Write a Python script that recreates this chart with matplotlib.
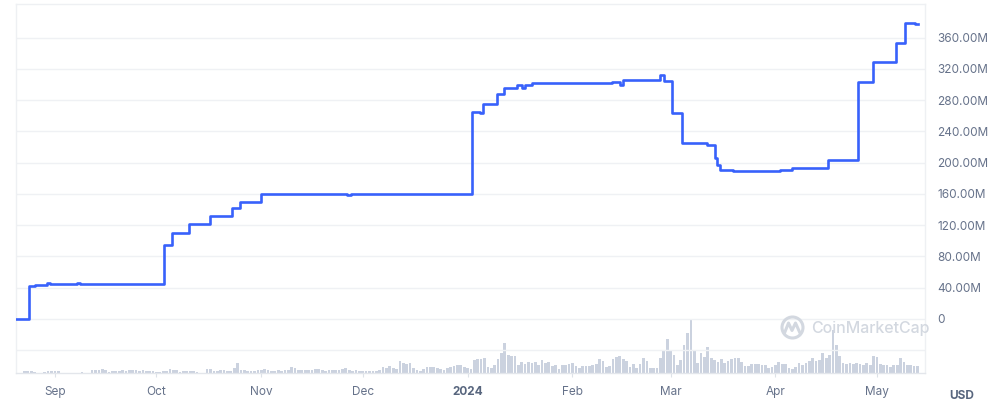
import matplotlib
matplotlib.use("Agg")
import matplotlib.pyplot as plt
import matplotlib.dates as mdates
from matplotlib.patches import Ellipse
from matplotlib.lines import Line2D
import pandas as pd

# ---------------- data ----------------
price_times = [
    "2023-08-20 12:00", "2023-08-24 07:00", "2023-08-26 00:00", "2023-08-29 14:00",
    "2023-08-30 12:00", "2023-09-07 12:00", "2023-09-08 12:00", "2023-10-03 05:00",
    "2023-10-05 17:00", "2023-10-10 14:00", "2023-10-16 19:00", "2023-10-23 10:00",
    "2023-10-25 17:00", "2023-10-31 19:00", "2023-11-26 05:00", "2023-11-27 12:00",
    "2024-01-02 10:00", "2024-01-04 19:00", "2024-01-05 14:00", "2024-01-09 17:00",
    "2024-01-11 17:00", "2024-01-15 12:00", "2024-01-17 00:00", "2024-01-17 22:00",
    "2024-01-19 22:00", "2024-02-12 17:00", "2024-02-15 00:00", "2024-02-16 00:00",
    "2024-02-26 19:00", "2024-02-28 00:00", "2024-03-01 12:00", "2024-03-04 12:00",
    "2024-03-11 19:00", "2024-03-14 02:00", "2024-03-14 19:00", "2024-03-15 14:00",
    "2024-03-19 10:00", "2024-04-02 07:00", "2024-04-05 19:00", "2024-04-16 14:00",
    "2024-04-25 10:00", "2024-04-29 22:00", "2024-05-06 12:00", "2024-05-09 07:00",
    "2024-05-12 05:00", "2024-05-13 05:00",
]
price_values_m = [
    0.0, 41.5, 43.5, 46.0,
    44.8, 45.8, 45.0, 94.0,
    110.0, 121.0, 131.5, 141.5,
    149.5, 160.0, 158.8, 159.7,
    265.0, 264.0, 275.5, 288.5,
    295.0, 299.4, 295.0, 299.0,
    301.5, 303.6, 299.3, 305.8,
    312.5, 305.0, 264.0, 225.4,
    222.4, 205.4, 197.0, 190.4,
    188.7, 190.4, 192.6, 203.2,
    303.6, 328.8, 353.6, 378.8,
    377.6, 377.6,
]

volume_start = "2023-08-21"
volume_m = [
    0.5, 0.8, 2, 2, 2, 1, 0.5, 0.5, 1, 2.5, 2, 2, 2, 0.5, 0.3, 0.3, 0.3, 0.3, 0.5, 1.5,
    0.5, 0.5, 3, 3.5, 3, 4.5, 3, 1.5, 2, 2.5, 2.5, 3, 2.5, 3, 3, 3.5, 2.5, 3, 2.5, 2,
    2, 1, 1, 2.5, 2.5, 4, 3, 3, 1, 2, 2, 2, 2, 1, 0.5, 0.5, 4, 4, 2, 2,
    3, 3, 2, 2, 5, 10, 3, 3, 2, 2, 2, 3, 3.5, 4, 3, 2.5, 2.5, 3, 2, 3,
    3, 6, 5, 3, 3, 3, 3, 3.5, 4, 4, 3.5, 2.5, 3, 3, 3, 3, 4, 5, 3, 2,
    3, 2.5, 2.5, 2, 2, 2, 2, 3, 6, 5, 7, 5, 4, 12, 10, 9, 10, 5, 3, 2,
    4, 6, 6, 6, 5, 4, 3, 5, 6, 7, 8, 8, 6, 5, 4, 13, 14, 14, 15, 6,
    5, 8, 14, 20, 30, 18, 17, 17, 8, 11, 9, 11, 10, 11, 8, 13, 10, 11, 7, 8,
    4, 8, 8, 9, 10, 7, 5, 7, 7, 7, 8, 9, 14, 12, 6, 7, 14, 16, 17, 14,
    12, 6, 9, 5, 9, 15, 12, 5, 5, 5, 15, 22, 34, 22, 18, 8, 13, 28, 40, 53,
    22, 10, 20, 16, 26, 15, 13, 11, 14, 10, 12, 14, 15, 15, 11, 7, 7, 9, 9, 9,
    8, 8, 5, 6, 8, 11, 9, 9, 5, 4, 6, 10, 8, 10, 12, 15, 12, 13, 20, 15,
    18, 43, 28, 17, 10, 9, 10, 9, 10, 9, 8, 10, 8, 17, 16, 9, 8, 8, 6, 8,
    8, 15, 11, 8, 8, 7, 7,
]

month_ticks = ["2023-09-01", "2023-10-01", "2023-11-01", "2023-12-01", "2024-01-01",
               "2024-02-01", "2024-03-01", "2024-04-01", "2024-05-01"]
month_labels = ["Sep", "Oct", "Nov", "Dec", "2024", "Feb", "Mar", "Apr", "May"]
ytick_values_m = [-40, 0, 40, 80, 120, 160, 200, 240, 280, 320, 360]
ytick_labels = ["", "0", "40.00M", "80.00M", "120.00M", "160.00M", "200.00M",
                "240.00M", "280.00M", "320.00M", "360.00M"]

# ---------------- style ----------------
LINE = "#3861FB"
VOLC = "#CBD2DF"
GRID = "#EFF1F4"
TXT = "#66728A"
plt.rcParams["font.family"] = ["Inter", "DejaVu Sans"]

fig = plt.figure(figsize=(10, 4.08), dpi=100)
ax_l, ax_r = 16 / 1000, 925 / 1000
ax_b, ax_t = (408 - 373.3) / 408, (408 - 4.3) / 408
axv = fig.add_axes([ax_l, ax_b, ax_r - ax_l, ax_t - ax_b])
ax = fig.add_axes([ax_l, ax_b, ax_r - ax_l, ax_t - ax_b], sharex=axv)
ax.patch.set_visible(False)

# volume bars (background)
vdates = pd.date_range(volume_start, periods=len(volume_m), freq="D")
axv.bar(vdates, volume_m, width=0.8, color=VOLC, linewidth=0, zorder=2)
axv.set_ylim(0, 369)
axv.set_yticks([])
for s in axv.spines.values():
    s.set_visible(False)

# price line
pt = pd.to_datetime(price_times)
ax.plot(pt, price_values_m, color=LINE, lw=1.9, drawstyle="steps-post",
        solid_joinstyle="round", zorder=5)

ax.set_xlim(pd.Timestamp("2023-08-20 12:00"), pd.Timestamp("2024-05-15 05:00"))
ax.set_ylim(-69.9, 402.8)

ax.yaxis.tick_right()
ax.set_yticks(ytick_values_m)
ax.set_yticklabels(ytick_labels)
ax.tick_params(axis="y", length=0, pad=9, labelsize=8.5, labelcolor=TXT)
ax.grid(axis="y", color=GRID, lw=1, zorder=0)
axv.set_axisbelow(True)

xt = pd.to_datetime(month_ticks)
ax.set_xticks(xt)
ax.set_xticklabels(month_labels)
ax.tick_params(axis="x", length=3, width=0.8, color="#DDE2E8", pad=6,
               labelsize=8.5, labelcolor=TXT)
for lab in ax.get_xticklabels():
    if lab.get_text() == "2024":
        lab.set_fontweight("bold")
        lab.set_color("#58667E")
plt.setp(axv.get_xticklabels(), visible=False)
axv.tick_params(axis="x", length=0)

for name, s in ax.spines.items():
    s.set_color("#EEF0F3")
    s.set_linewidth(1)
ax.spines["bottom"].set_color("#E3E6EB")

# watermark
wm = "#D3D8E0"
fig.text(0.8115, 1 - 328 / 408, "CoinMarketCap", fontsize=11.5, color=wm,
         ha="left", va="center", fontweight="medium")
fig.patches.append(Ellipse((0.7925, 1 - 327.5 / 408), 21 / 1000, 21 / 408,
                           transform=fig.transFigure, fill=False, ec=wm, lw=2.2))
xs = [784.5, 788.5, 792.0, 795.5, 800.0]
ys = [333.0, 323.0, 330.5, 323.0, 333.0]
fig.lines.append(Line2D([x / 1000 for x in xs], [1 - y / 408 for y in ys],
                        transform=fig.transFigure, color=wm, lw=2.2,
                        solid_joinstyle="round", solid_capstyle="round"))

fig.text(0.962, 1 - 396 / 408, "USD", fontsize=8.5, color="#58667E",
         ha="center", va="center", fontweight="bold")

fig.savefig("out.png", dpi=100)
